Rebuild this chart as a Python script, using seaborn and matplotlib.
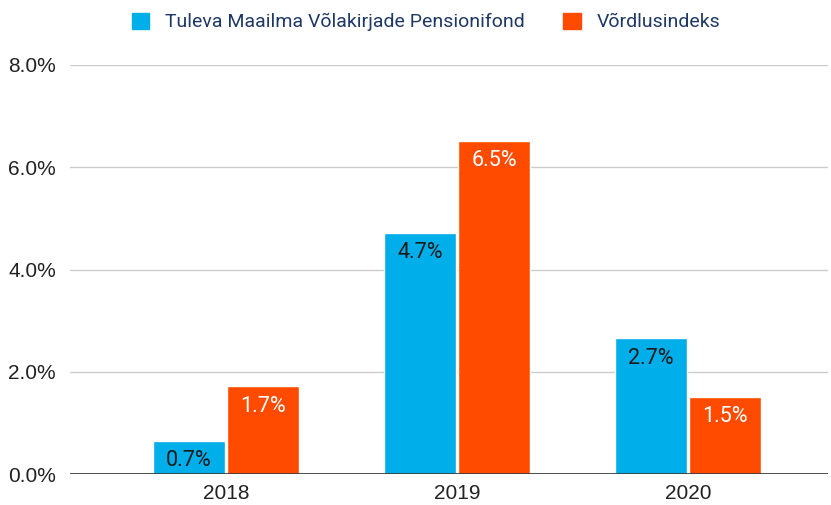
import pandas as pd
import matplotlib.pyplot as plt
import seaborn as sns
from matplotlib.patches import Patch

years = ["2018", "2019", "2020"]
series = ["Tuleva Maailma Võlakirjade Pensionifond", "Võrdlusindeks"]
fund_values = [0.65, 4.72, 2.66]
index_values = [1.72, 6.52, 1.51]
colors = ["#00aeea", "#ff4b00"]

df = pd.DataFrame({
    "year": years * 2,
    "series": [series[0]] * 3 + [series[1]] * 3,
    "value": fund_values + index_values,
})

sns.set_theme(style="white")
plt.rcParams['font.family'] = ['Roboto', 'DejaVu Sans']

fig = plt.figure(figsize=(8.31, 5.05), dpi=100)
ax = fig.add_axes([70 / 831, 1 - 474 / 505, 758 / 831, 409 / 505])

sns.barplot(data=df, x="year", y="value", hue="series", palette=colors,
            width=0.64, gap=0.035, saturation=1, ax=ax, legend=False)

ax.set_xlim(-0.675, 2.606)
ax.set_ylim(0, 8)
ax.set_yticks([0, 2, 4, 6, 8])
ax.set_yticklabels([f"{v:.1f}%" for v in [0, 2, 4, 6, 8]])
ax.grid(axis="y", color="#cccccc", linewidth=1)
ax.set_axisbelow(True)
ax.axhline(0, color="#333333", linewidth=1.2)
for s in ax.spines.values():
    s.set_visible(False)
ax.set_xlabel("")
ax.set_ylabel("")
ax.tick_params(axis="both", length=0, labelsize=15, colors="#222222")
ax.tick_params(axis="y", pad=10)
ax.tick_params(axis="x", pad=7)
for lbl in ax.get_xticklabels() + ax.get_yticklabels():
    lbl.set_family(['Liberation Sans', 'DejaVu Sans'])

# value labels inside the top of each bar
for container, tc in zip(ax.containers, ["#1a1a1a", "white"]):
    ax.bar_label(container, labels=[f"{b.get_height():.1f}%" for b in container],
                 label_type="edge", padding=-22, color=tc, fontsize=15.5)

handles = [Patch(facecolor=c, edgecolor=c) for c in colors]
fig.legend(handles, series, loc="center", bbox_to_anchor=(426 / 831, 1 - 22 / 505),
           ncol=2, frameon=False, fontsize=14, handlelength=0.9, handleheight=0.9,
           columnspacing=2.0, handletextpad=0.8, labelcolor="#1f3864")

fig.savefig("out.png", dpi=100)
